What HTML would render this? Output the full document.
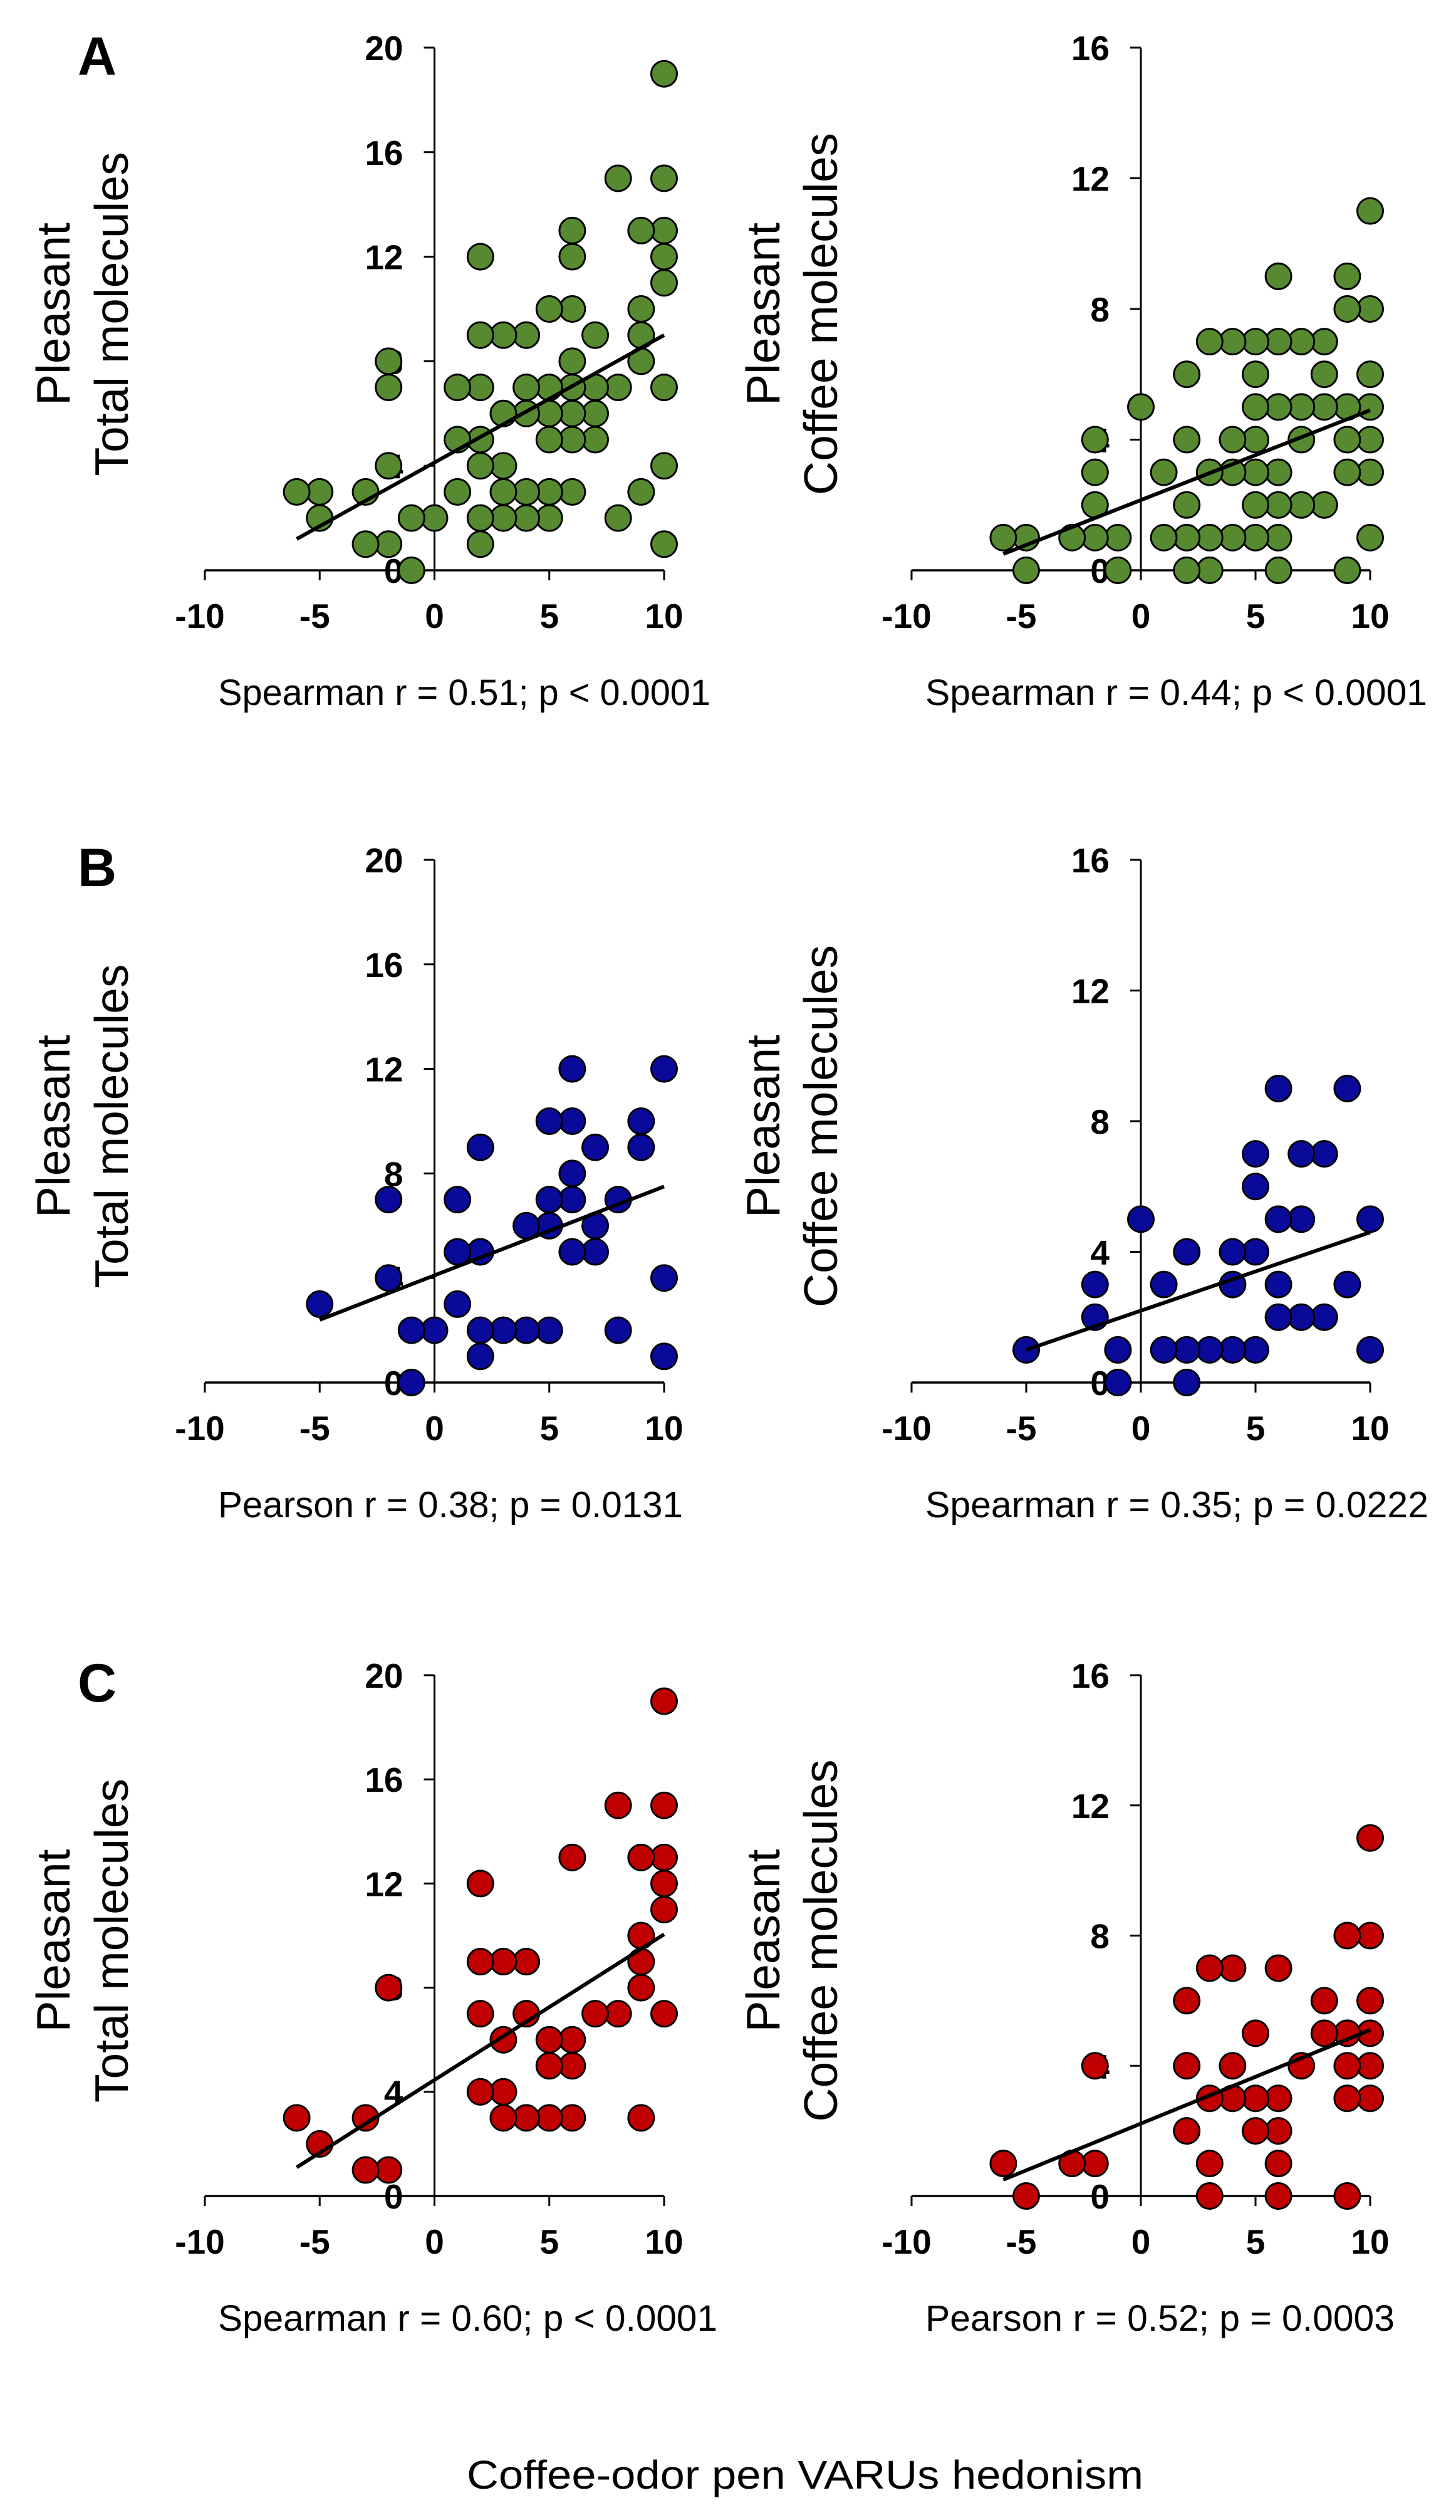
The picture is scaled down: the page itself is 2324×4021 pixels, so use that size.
<!DOCTYPE html>
<html><head><meta charset="utf-8"><style>
html,body{margin:0;padding:0;background:#fff}
svg{display:block}
text{font-family:"Liberation Sans",Arial,sans-serif}
</style></head><body>
<svg id="fig" width="2324" height="4021" viewBox="0 0 2324 4021" xmlns="http://www.w3.org/2000/svg">
<rect width="2324" height="4021" fill="#fff"/>
<text x="124" y="119" font-size="86" font-weight="bold">A</text>
<text x="124" y="1414" font-size="86" font-weight="bold">B</text>
<text x="124" y="2715" font-size="86" font-weight="bold">C</text>
<text x="745" y="3971" font-size="64" textLength="1080" lengthAdjust="spacingAndGlyphs">Coffee-odor pen VARUs hedonism</text>
</svg>
<script>
// Panel A left: total molecules (green)
const aTotX = [10,10,10,10,10,10,10,10, 9,9,9,9,9, 8,8,8, 7,7,7,7, 6,6,6,6,6,6,6,6, 5,5,5,5,5,5, 4,4,4,4,4, 3,3,3,3,3, 2,2,2,2,2,2,2, 1,1,1, 0, -1,-1, -2,-2,-2,-2, -3,-3, -5,-5, -6];
const aTotY = [19,15,13,12,11,7,4,1, 13,10,9,8,3, 15,7,2, 9,7,6,5, 13,12,10,8,7,6,5,3, 10,7,6,5,3,2, 9,7,6,3,2, 9,6,4,3,2, 12,9,7,5,4,2,1, 7,5,3, 2, 2,0, 8,7,4,1, 3,1, 3,2, 3];
const aTotFitX = [-6,10], aTotFitY = [1.2,9.0];
// Panel A right: coffee molecules (green)
const aCofX = [10,10,10,10,10,10,10, 9,9,9,9,9,9, 8,8,8,8, 7,7,7,7, 6,6,6,6,6,6,6, 5,5,5,5,5,5,5, 4,4,4,4, 3,3,3,3, 2,2,2,2,2, 1,1, 0, -1,-1, -2,-2,-2,-2, -3, -5,-5, -6];
const aCofY = [11,8,6,5,4,3,1, 9,8,5,4,3,0, 7,6,5,2, 7,5,4,2, 9,7,5,3,2,1,0, 7,6,5,4,3,2,1, 7,4,3,1, 7,3,1,0, 6,4,2,1,0, 3,1, 5, 1,0, 4,3,2,1, 1, 1,0, 1];
const aCofFitX = [-6,10], aCofFitY = [0.5,4.9];
// Panel B left (blue)
const bTotX = [10,10,10, 9,9, 8,8, 7,7,7, 6,6,6,6,6, 5,5,5,5, 4,4, 3, 2,2,2,2, 1,1,1, 0, -1,-1, -2,-2, -5];
const bTotY = [12,4,1, 10,9, 7,2, 9,6,5, 12,10,8,7,5, 10,7,6,2, 6,2, 2, 9,5,2,1, 7,5,3, 2, 2,0, 7,4, 3];
const bTotFitX = [-5,10], bTotFitY = [2.4,7.5];
// Panel B right (blue)
const bCofX = [10,10, 9,9, 8,8, 7,7,7, 6,6,6,6, 5,5,5,5, 4,4,4, 3, 2,2,2, 1,1, 0, -1,-1, -2,-2, -5];
const bCofY = [5,1, 9,3, 7,2, 7,5,2, 9,5,3,2, 7,6,4,1, 4,3,1, 1, 4,1,0, 3,1, 5, 1,0, 3,2, 1];
const bCofFitX = [-5,10], bCofFitY = [1.0,4.6];
// Panel C left (red)
const cTotX = [10,10,10,10,10,10, 9,9,9,9,9, 8,8, 7, 6,6,6,6, 5,5,5, 4,4,4, 3,3,3,3, 2,2,2,2, -2,-2, -3,-3, -5, -6];
const cTotY = [19,15,13,12,11,7, 13,10,9,8,3, 15,7, 7, 13,6,5,3, 6,5,3, 9,7,3, 9,6,4,3, 12,9,7,4, 8,1, 3,1, 2, 3];
const cTotFitX = [-6,10], cTotFitY = [1.1,10.05];
// Panel C right (red)
const cCofX = [10,10,10,10,10,10, 9,9,9,9,9, 8,8, 7, 6,6,6,6,6, 5,5,5, 4,4,4, 3,3,3,3, 2,2,2, -2,-2, -3, -5, -6];
const cCofY = [11,8,6,5,4,3, 8,5,4,3,0, 6,5, 4, 7,3,2,1,0, 5,3,2, 7,4,3, 7,3,1,0, 6,4,2, 4,1, 1, 0, 1];
const cCofFitX = [-6,10], cCofFitY = [0.5,5.1];

const xTicks = [-10,-5,0,5,10];
const yTicksTotal = [0,4,8,12,16,20];
const yTicksCoffee = [0,4,8,12,16];

const NS = "http://www.w3.org/2000/svg";
const svg = document.getElementById('fig');
function el(tag, attrs, parent){ const e=document.createElementNS(NS,tag); for(const k in attrs) e.setAttribute(k,attrs[k]); (parent||svg).appendChild(e); return e; }

const panels = [
 {id:'a-total', xs:aTotX, ys:aTotY, fx:aTotFitX, fy:aTotFitY, yt:yTicksTotal, ymax:20, x0:327, x1:1060, yTop:76, yBot:910, col:'#578a30', l1:'Pleasant', l2:'Total molecules', lx1:85, lx2:178, stat:'Spearman r = 0.51; p < 0.0001', sx:348, sw:786},
 {id:'a-coffee', xs:aCofX, ys:aCofY, fx:aCofFitX, fy:aCofFitY, yt:yTicksCoffee, ymax:16, x0:1455, x1:2187, yTop:76, yBot:910, col:'#578a30', l1:'Pleasant', l2:'Coffee molecules', lx1:1218, lx2:1310, stat:'Spearman r = 0.44; p < 0.0001', sx:1477, sw:801},
 {id:'b-total', xs:bTotX, ys:bTotY, fx:bTotFitX, fy:bTotFitY, yt:yTicksTotal, ymax:20, x0:327, x1:1060, yTop:1372, yBot:2206, col:'#0a0a9a', l1:'Pleasant', l2:'Total molecules', lx1:85, lx2:178, stat:'Pearson r = 0.38; p = 0.0131', sx:348, sw:742},
 {id:'b-coffee', xs:bCofX, ys:bCofY, fx:bCofFitX, fy:bCofFitY, yt:yTicksCoffee, ymax:16, x0:1455, x1:2187, yTop:1372, yBot:2206, col:'#0a0a9a', l1:'Pleasant', l2:'Coffee molecules', lx1:1218, lx2:1310, stat:'Spearman r = 0.35; p = 0.0222', sx:1477, sw:803},
 {id:'c-total', xs:cTotX, ys:cTotY, fx:cTotFitX, fy:cTotFitY, yt:yTicksTotal, ymax:20, x0:327, x1:1060, yTop:2673, yBot:3504, col:'#c00000', l1:'Pleasant', l2:'Total molecules', lx1:85, lx2:178, stat:'Spearman r = 0.60; p < 0.0001', sx:348, sw:797},
 {id:'c-coffee', xs:cCofX, ys:cCofY, fx:cCofFitX, fy:cCofFitY, yt:yTicksCoffee, ymax:16, x0:1455, x1:2187, yTop:2673, yBot:3504, col:'#c00000', l1:'Pleasant', l2:'Coffee molecules', lx1:1218, lx2:1310, stat:'Pearson r = 0.52; p = 0.0003', sx:1477, sw:749}
];

panels.forEach(p=>{
  const g = el('g',{});
  
  
  const sx = v => p.x0 + (v+10)/20*(p.x1-p.x0);
  const sy = v => p.yBot - v/p.ymax*(p.yBot-p.yTop);
  const ax = sx(0);
  const cy = (p.yTop+p.yBot)/2 + 8;
  const t1 = el('text',{x:p.lx1, y:cy, 'font-size':75, 'text-anchor':'middle', 'dominant-baseline':'central', transform:`rotate(-90 ${p.lx1} ${cy})`}, g);
  t1.textContent = p.l1;
  
  
  const t2 = el('text',{x:p.lx2, y:cy, 'font-size':75, 'text-anchor':'middle', 'dominant-baseline':'central', transform:`rotate(-90 ${p.lx2} ${cy})`}, g);
  t2.textContent = p.l2;
  
  
  p.yt.forEach(v=>{
    const t = el('text',{x:ax-50, y:sy(v)+20, 'font-size':55, 'font-weight':'bold', 'text-anchor':'end'}, g);
    t.textContent = v;
    
    
    const tk = el('line',{x1:ax-17, x2:ax, y1:sy(v), y2:sy(v), stroke:'#000', 'stroke-width':3}, g);
    
    
  });
  xTicks.forEach(v=>{
    const t = el('text',{x:sx(v)+(v<0?-8:0), y:p.yBot+92, 'font-size':55, 'font-weight':'bold', 'text-anchor':'middle'}, g);
    t.textContent = v;
    
    
    const tk = el('line',{x1:sx(v), x2:sx(v), y1:p.yBot, y2:p.yBot+16, stroke:'#000', 'stroke-width':3}, g);
    
    
  });
  const ya = el('line',{x1:ax, x2:ax, y1:p.yTop, y2:p.yBot+16, stroke:'#000', 'stroke-width':3}, g);
  
  
  const xa = el('line',{x1:p.x0, x2:p.x1, y1:p.yBot, y2:p.yBot, stroke:'#000', 'stroke-width':3.5}, g);
  
  
  for(let i=0;i<p.xs.length;i++){
    const c = el('circle',{cx:sx(p.xs[i]), cy:sy(p.ys[i]), r:20.5, fill:p.col, stroke:'#000', 'stroke-width':3}, g);
    
    
  }
  const ln = el('line',{x1:sx(p.fx[0]), y1:sy(p.fy[0]), x2:sx(p.fx[1]), y2:sy(p.fy[1]), stroke:'#000', 'stroke-width':6}, g);
  
  
  const st = el('text',{x:p.sx, y:p.yBot+215, 'font-size':58, textLength:p.sw, lengthAdjust:'spacingAndGlyphs'}, g);
  st.textContent = p.stat;
  
  
});
</script>
</body></html>
